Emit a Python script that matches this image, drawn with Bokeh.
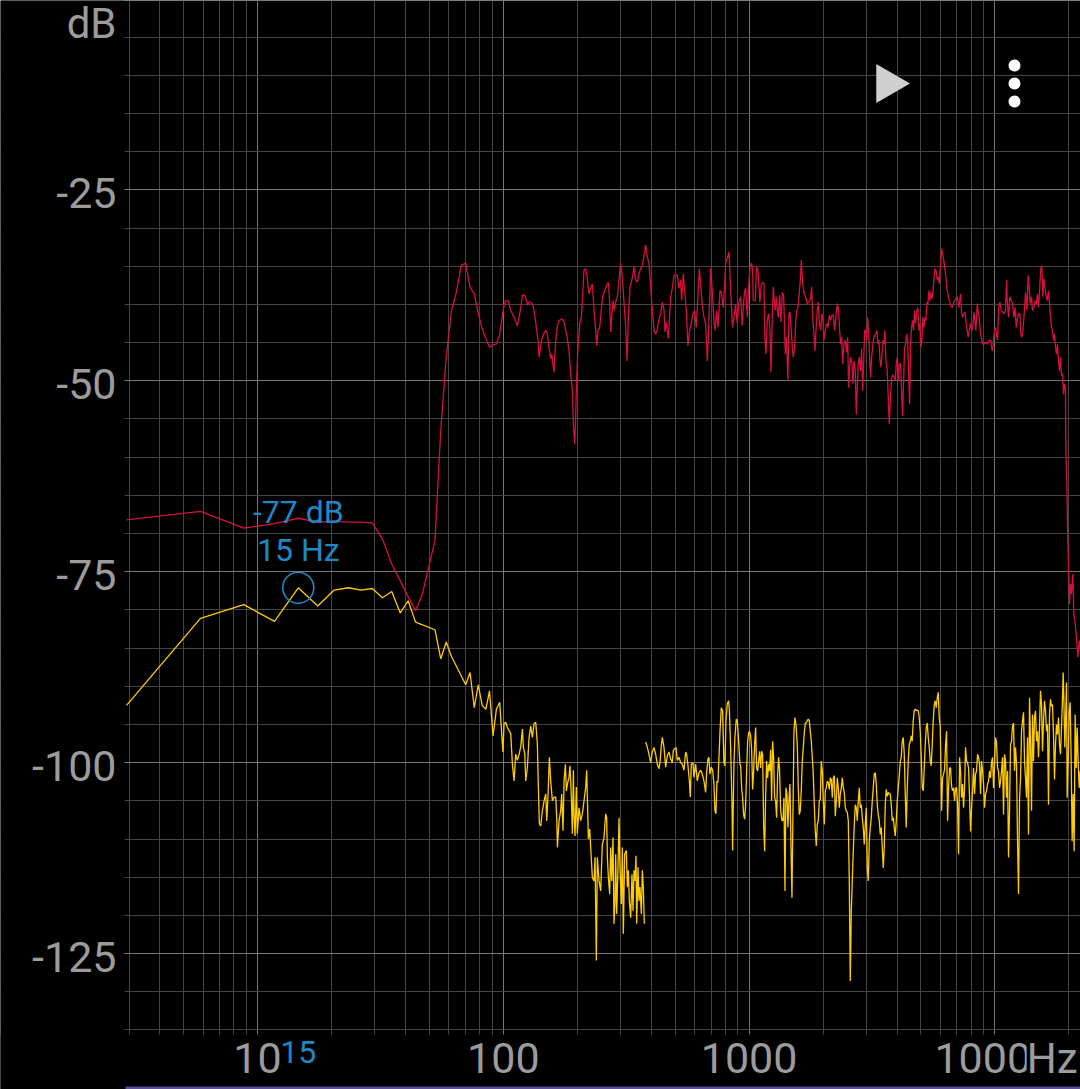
import math
import numpy as np
from bokeh.plotting import figure
from bokeh.models import Range1d, FixedTicker, Label, BoxAnnotation
from bokeh.embed import file_html
from bokeh.resources import INLINE

# ---------------- data (frequency in Hz, level in dB) ----------------
red_low = [(2.93,-68.2),(5.86,-67.1),(8.79,-69.3),(11.72,-68.7),(14.65,-68.0),(17.58,-68.5),(20.51,-68.4),
(23.44,-68.5),(26.37,-68.5),(29.30,-68.6),(32.23,-70.7),(35.16,-74.0),(38.09,-76.2),(41.02,-78.3),(43.95,-80.1),
(46.88,-77.9),(49.80,-74.3),(52.73,-70.9),(55.66,-56.5),(58.59,-46.9),(61.52,-40.8),(64.45,-38.4),(67.38,-34.9),
(70.31,-34.6),(73.24,-37.8),(76.17,-38.6),(79.10,-41.2),(82.03,-43.2),(84.96,-44.5),(87.89,-45.6),(90.82,-45.3),
(93.75,-45.2),(96.68,-43.9)]

red_mid = [(99.2,-41.4),(100.7,-40.1),(102.3,-39.5),(104.6,-39.5),(107.2,-40.8),(110.6,-41.7),(114.1,-42.8),
(117.0,-41.0),(119.6,-38.8),(122.3,-38.8),(124.5,-39.5),(125.3,-40.1),(127.3,-39.7),(129.3,-39.7),(132.1,-40.1),
(134.6,-41.7),(136.8,-43.4),(138.5,-44.7),(139.8,-46.9),(141.1,-46.1),(142.9,-44.7),(145.6,-43.9),(148.8,-43.4),
(151.1,-43.9),(153.5,-45.6),(155.9,-47.1),(157.4,-46.5),(158.9,-47.6),(160.9,-48.9),(161.9,-46.9),(163.9,-44.3),
(166.0,-42.8),(169.1,-42.1),(173.9,-41.9),(176.7,-42.3),(179.4,-43.4),(182.3,-44.5),(185.1,-46.1),(188.0,-49.1),
(191.0,-51.3),(192.8,-55.7),(195.2,-58.3),(197.0,-54.8),(198.8,-49.6),(201.4,-45.6),(204.6,-42.5),(207.8,-41.7),
(209.7,-39.5),(213.0,-35.5),(216.4,-35.3),(219.8,-36.8),(223.3,-38.6),(226.8,-37.9),(230.3,-37.3),(234.0,-40.8),
(237.6,-43.4),(239.9,-45.4),(242.9,-43.4),(246.8,-43.0),(250.6,-40.6),(253.7,-39.0),(258.5,-38.2),(263.4,-37.5),
(267.6,-37.1),(270.9,-39.7),(273.5,-43.6),(276.1,-41.7),(279.5,-39.5),(283.0,-40.8),(286.6,-39.7),(291.1,-39.0),
(295.7,-36.8),(300.3,-34.6),(305.0,-36.4),(309.8,-39.7),(314.7,-43.0),(318.7,-47.4),(322.7,-41.7),(327.8,-37.7),
(331.9,-37.1),(337.1,-36.0),(340.2,-35.1),(345.6,-36.8),(351.0,-37.1),(356.5,-36.0),(362.2,-35.3),(367.9,-34.9),
(373.6,-33.6),(379.5,-32.2),(385.5,-33.8),(391.5,-34.6),(397.7,-37.7),(403.9,-40.6),(410.3,-43.4),(416.8,-43.9),
(423.3,-43.2),(430.0,-41.9),(436.7,-41.2),(443.6,-39.7),(450.6,-40.6),(454.8,-43.6),(460.6,-42.3),(464.9,-43.4),
(469.3,-44.5),(473.7,-42.1),(479.6,-39.0),(487.1,-37.9),(494.8,-36.2),(502.6,-36.1),(510.5,-36.2),(518.5,-37.9),
(526.7,-36.8),(531.7,-39.5),(540.0,-36.0),(546.8,-38.2),(555.3,-40.8),(564.1,-45.4),(573.0,-43.4),(582.0,-42.5),
(591.2,-41.2),(600.4,-40.8),(609.9,-43.0),(619.5,-38.8),(627.3,-35.3),(635.1,-37.3),(645.1,-40.1),(655.3,-41.7),
(665.6,-42.5),(671.9,-45.6),(676.1,-47.4),(684.6,-43.4),(697.5,-35.3),(708.5,-38.2),(719.6,-42.1),(726.4,-43.4),
(737.9,-40.8),(747.4,-43.0),(761.3,-38.2),(770.8,-38.4),(785.3,-40.4),(795.2,-37.5),(802.7,-34.6),(815.3,-34.0),
(828.1,-33.1),(836.0,-36.0),(846.6,-39.9),(857.0,-43.0),(867.8,-41.7),(881.4,-40.1),(895.3,-42.5),(909.4,-39.7)]

red_high = [(924,-39.0),(938,-42.8),(947,-40.4),(959,-38.2),(968,-37.9),(984,-41.7),(996,-37.7),(1009,-35.1),
(1024,-34.6),(1034,-35.5),(1040,-39.5),(1060,-39.5),(1073,-35.1),(1087,-35.5),(1097,-37.7),(1107,-39.7),(1121,-37.5),
(1135,-37.1),(1150,-37.3),(1160,-44.3),(1171,-46.5),(1186,-42.1),(1201,-41.2),(1216,-43.4),(1228,-48.9),(1243,-41.7),
(1255,-37.7),(1266,-39.5),(1278,-40.8),(1290,-39.0),(1303,-40.8),(1315,-41.7),(1331,-38.8),(1348,-42.3),(1365,-38.4),
(1382,-38.8),(1395,-43.0),(1404,-46.5),(1417,-44.3),(1426,-46.1),(1439,-50.0),(1453,-41.2),(1466,-41.0),(1485,-43.4),
(1499,-45.6),(1513,-46.9),(1532,-45.6),(1547,-42.5),(1561,-40.8),(1581,-40.4),(1596,-39.0),(1616,-36.8),(1631,-34.2),
(1651,-37.1),(1672,-38.4),(1698,-39.0),(1725,-39.9),(1753,-39.7),(1780,-39.3),(1797,-37.7),(1814,-41.7),(1837,-43.9),
(1854,-46.1),(1872,-43.4),(1895,-40.8),(1913,-39.7),(1931,-42.3),(1955,-43.4),(1979,-41.2),(1998,-41.9),(2017,-44.7),
(2042,-43.4),(2068,-42.5),(2094,-43.0),(2120,-41.4),(2147,-42.1),(2174,-41.4),(2202,-41.4),(2229,-43.4),(2250,-42.1),
(2285,-39.9),(2314,-40.8),(2336,-43.4),(2358,-45.2),(2380,-44.3),(2402,-47.8),(2433,-45.2),(2463,-44.7),(2494,-46.3),
(2518,-44.3),(2541,-50.9),(2565,-48.2),(2589,-46.9),(2622,-47.8),(2646,-50.4),(2671,-47.4),(2705,-48.7),(2730,-54.4),
(2756,-50.9),(2782,-47.8),(2808,-46.9),(2843,-48.7),(2870,-45.8),(2897,-51.3),(2924,-47.8),(2952,-43.4),(2980,-43.4),
(3007,-44.7),(3036,-41.7),(3065,-43.9),(3093,-46.9),(3122,-49.6),(3152,-46.9),(3181,-45.6),(3221,-44.3),(3272,-43.9),
(3313,-43.4),(3344,-45.2),(3376,-44.7),(3408,-47.4),(3440,-48.2),(3472,-46.5),(3505,-44.7),(3538,-45.2),(3571,-43.4),
(3604,-47.4),(3650,-48.7),(3684,-52.2),(3719,-55.7),(3766,-51.8),(3801,-49.6),(3849,-49.2),(3897,-49.6),(3934,-50.0),
(3971,-47.8),(4008,-46.9),(4046,-50.0),(4084,-47.8),(4135,-47.8),(4174,-51.3),(4213,-54.6),(4253,-50.0),(4293,-45.6),
(4333,-45.2),(4374,-43.9),(4415,-44.7),(4457,-48.7),(4499,-53.1),(4541,-45.2),(4584,-43.0),(4627,-42.1),(4670,-43.4),
(4714,-40.8),(4759,-42.5),(4804,-41.0),(4864,-40.4),(4910,-43.4),(4956,-42.5),(5002,-45.6),(5050,-44.7),(5097,-41.7),
(5145,-43.0),(5193,-41.7),(5242,-42.1),(5292,-39.7),(5341,-39.9),(5392,-38.2),(5442,-39.5),(5494,-38.4),(5545,-39.3),
(5597,-38.4),(5650,-36.8),(5703,-35.3),(5775,-35.7),(5829,-36.8),(5884,-36.4),(5940,-37.3),(6014,-34.6),(6089,-32.7),
(6166,-33.8),(6243,-34.9),(6302,-36.0),(6401,-38.2),(6502,-39.3),(6604,-40.1),(6708,-40.4),(6814,-39.7),(6921,-39.3),
(7030,-39.0),(7140,-40.4),(7253,-38.6),(7321,-41.2),(7390,-41.7),(7483,-41.2),(7553,-41.0),(7648,-42.5),(7720,-43.4),
(7792,-44.3),(7866,-43.4),(7965,-42.5),(8040,-43.2),(8115,-43.4),(8217,-41.0),(8294,-42.1),(8372,-43.4),(8478,-39.9),
(8557,-41.0),(8638,-41.7),(8719,-43.4),(8801,-44.3),(8911,-45.2),(9024,-45.2),(9166,-45.0),(9309,-45.2),(9456,-44.7),
(9604,-44.7),(9756,-46.1),(9848,-45.2),(9971,-43.4),(10065,-43.0),(10160,-43.9),(10255,-44.7),(10384,-40.1),(10481,-39.7),
(10613,-40.8),(10747,-41.0),(10882,-41.2),(11053,-40.8),(11157,-36.8),(11227,-39.5),(11368,-41.7),(11510,-39.0),
(11655,-39.5),(11801,-39.9),(11950,-41.7),(12100,-40.4),(12214,-43.0),(12329,-42.1),(12484,-41.2),(12641,-41.2),
(12760,-43.9),(12880,-44.3),(13001,-43.6),(13164,-41.2),(13330,-38.4),(13497,-40.8),(13667,-36.2),(13795,-37.7),
(13925,-39.9),(14100,-39.0),(14232,-40.8),(14412,-40.4),(14593,-39.5),(14776,-39.9),(14915,-38.6),(15056,-40.4),
(15197,-38.2),(15387,-35.3),(15532,-34.9),(15678,-39.0),(15825,-36.6),(15974,-37.7),(16124,-38.6),(16327,-39.5),
(16532,-38.2),(16688,-39.9),(16845,-41.7),(17004,-43.0),(17163,-43.4),(17325,-44.7),(17488,-43.9),(17652,-45.6),
(17818,-46.5),(17985,-45.2),(18154,-47.4),(18325,-48.7),(18498,-46.9),(18672,-49.3),(18848,-49.1),(19025,-51.8),
(19204,-50.4),(19385,-51.3),(19440,-57.8),(19630,-63.9),(19810,-70.9),(20000,-75.3),(20130,-79.2),(20320,-76.6),
(20510,-77.9),(20760,-75.3),(20960,-80.5),(21230,-81.8),(21490,-83.6),(21760,-86.2),(22040,-84.0),(22310,-85.4)]

yellow_low = [(2.93,-92.5),(5.86,-81.1),(8.79,-79.3),(11.72,-81.5),(14.65,-77.1),(17.58,-79.5),(20.51,-77.4),
(23.44,-77.1),(26.37,-77.4),(29.30,-77.2),(32.23,-78.4),(35.16,-77.6),(38.09,-80.4),(41.02,-78.8),(43.95,-81.6),
(52.73,-82.6),(55.66,-86.4),(58.59,-84.2),(61.52,-86.1),(70.31,-89.8),(73.24,-88.2),(76.17,-92.8),(79.10,-89.8),
(82.03,-92.5),(84.96,-93.0),(87.89,-90.6),(90.82,-96.5),(93.75,-93.0),(96.68,-92.1),(99.61,-98.6)]

yellow_mid_a = [(100.7,-94.9),(102.3,-94.7),(103.9,-95.4),(107.2,-96.2),(108.9,-100.2),(110.6,-102.4),(112.3,-98.9),
(114.1,-99.7),(115.9,-98.9),(117.7,-98.0),(119.6,-95.6),(120.7,-98.0),(122.3,-98.9),(123.4,-102.4),(125.3,-100.6),
(127.3,-96.7),(129.3,-95.2),(131.3,-96.7),(133.4,-94.9),(135.5,-94.7),(137.6,-97.6),(138.9,-103.2),(140.2,-108.0),
(142.0,-108.3),(144.2,-106.3),(146.5,-105.0),(148.8,-104.1),(150.2,-107.6),(152.1,-104.1),(154.0,-99.3),(155.9,-102.4),
(158.4,-105.0),(160.9,-104.5),(163.4,-104.5),(165.0,-107.2),(166.0,-111.1),(168.6,-107.6),(171.2,-106.3),(172.8,-104.1),
(175.0,-108.9),(176.7,-102.4),(178.9,-100.2),(180.6,-103.7),(182.3,-102.8),(185.1,-101.9),(186.8,-100.4),(189.2,-104.5),
(191.0,-109.3),(192.8,-101.0),(194.0,-106.7),(195.8,-109.6),(198.2,-103.2),(200.1,-109.3),(203.3,-105.9),(206.5,-107.6),
(209.7,-106.7),(213.0,-105.0),(216.4,-103.2),(218.4,-101.0),(219.8,-104.5),(221.9,-110.0),(224.7,-108.7),(226.8,-111.1),
(230.3,-115.0),(234.0,-115.5),(236.2,-112.4),(239.1,-125.9),(241.4,-112.4),(245.2,-115.5),(249.0,-116.8),(252.9,-110.7),
(256.9,-109.8),(261.0,-106.7),(263.4,-107.2),(265.1,-112.4),(267.6,-115.0),(270.9,-117.2),(273.5,-111.1),(276.1,-115.5),
(279.5,-109.8),(282.1,-121.1),(284.8,-118.1),(286.6,-112.0),(289.3,-119.8),(292.9,-113.7),(295.7,-107.2),(298.4,-113.7),
(302.2,-118.5),(305.0,-111.1),(307.9,-122.4),(311.7,-112.0),(316.7,-111.5),(319.7,-116.3),(322.7,-114.1),(325.7,-118.1),
(329.8,-120.3),(333.9,-114.6),(337.1,-119.4),(340.2,-114.1),(343.4,-115.5),(346.7,-112.2),(348.9,-121.1),(353.2,-113.7),
(356.5,-118.1),(359.9,-116.3),(364.5,-119.8),(367.9,-114.1),(371.3,-116.3),(374.8,-121.1)]

yellow_mid_b = [(379.5,-97.3),(385.5,-98.0),(391.5,-98.9),(397.7,-100.0),(403.9,-98.6),(410.3,-98.0),(416.8,-98.9),
(423.3,-100.2),(430.0,-100.8),(434.0,-100.0),(439.4,-97.8),(443.6,-96.7),(450.6,-98.0),(457.7,-100.6),(464.9,-99.1),
(472.2,-98.6),(479.6,-99.5),(487.1,-100.0),(491.7,-98.4),(497.9,-98.2),(504.2,-98.0),(510.5,-99.7),(518.5,-99.3),
(526.7,-100.0),(535.0,-100.2),(543.4,-101.0),(551.9,-98.6),(557.1,-98.9),(564.1,-100.4),(571.6,-102.4),(576.6,-104.5),
(582.0,-100.2),(591.2,-100.0),(596.7,-101.9),(606.1,-100.2),(615.6,-102.4),(625.4,-101.3),(635.1,-101.0),(645.1,-101.5),
(655.3,-102.4),(665.6,-103.9),(671.9,-101.3),(680.3,-99.5),(686.7,-99.3),(693.2,-101.5),(701.8,-100.6),(710.7,-101.0),
(719.6,-102.8),(726.4,-106.3),(733.2,-106.7),(740.1,-102.4),(747.1,-102.6),(761.3,-96.0),(770.8,-92.8),(780.4,-93.2),
(790.2,-100.0),(797.7,-100.4),(805.3,-94.5),(815.3,-92.3),(825.5,-91.9),(831.7,-93.2),(841.2,-98.0),(851.7,-105.0),
(857.0,-111.5),(867.8,-100.2),(875.9,-96.7),(887.0,-94.3),(895.3,-94.5),(906.6,-97.1),(917.9,-100.2)]

yellow_high = [(924,-100.4),(932.7,-103.3),(941.4,-104.6),(950.3,-106.8),(959.2,-107.4),(968.3,-105.5),(977.4,-101.1),
(986.6,-97.2),(995.9,-96.1),(1005.2,-95.9),(1014.7,-96.5),(1024.3,-98.3),(1033.9,-103.5),(1043.6,-101.1),(1053.4,-97.6),
(1063.4,-95.4),(1073.4,-100.7),(1083.5,-101.1),(1093.7,-99.8),(1104.0,-98.5),(1114.3,-100.7),(1124.8,-98.5),(1135.4,-98.9),
(1146.1,-108.1),(1156.9,-111.6),(1167.7,-104.6),(1178.7,-99.8),(1189.8,-102.0),(1201.0,-100.2),(1212.3,-101.1),
(1223.7,-98.3),(1235.2,-105.0),(1246.8,-97.2),(1258.6,-99.3),(1270.4,-104.6),(1282.4,-105.0),(1294.5,-107.2),
(1306.6,-101.5),(1318.9,-99.3),(1331.3,-101.1),(1343.9,-106.3),(1360.8,-107.6),(1373.6,-107.6),(1386.5,-104.6),
(1399.6,-116.8),(1412.7,-103.3),(1426.0,-104.1),(1439.4,-108.5),(1452.8,-105.0),(1466.6,-102.8),(1480.4,-110.7),
(1494.3,-117.7),(1522.6,-95.9),(1537.0,-94.1),(1551.4,-95.0),(1570.8,-97.6),(1585.6,-103.3),(1600.6,-106.8),
(1615.6,-106.3),(1630.8,-103.7),(1646.1,-99.8),(1661.6,-98.0),(1677.2,-96.1),(1693.0,-94.8),(1708.9,-94.8),
(1725.4,-94.5),(1741.3,-94.3),(1757.9,-94.5),(1774.5,-95.9),(1791.3,-97.2),(1808.1,-99.3),(1825.0,-101.5),
(1842.3,-105.5),(1859.7,-109.0),(1877.2,-110.9),(1894.8,-108.1),(1912.7,-107.6),(1930.6,-105.0),(1948.8,-104.8),
(1967.1,-99.8),(1985.6,-101.1),(2004.3,-105.0),(2023.5,-108.1),(2042.4,-103.7),(2061.7,-103.3),(2081.0,-102.4),
(2100.6,-102.6),(2120.3,-103.5),(2140.3,-102.0),(2160.6,-102.2),(2180.7,-104.6),(2201.2,-102.0),(2222.0,-101.7),
(2242.8,-107.0),(2264.0,-105.0),(2285.2,-102.0),(2306.7,-103.3),(2328.5,-105.9),(2350.4,-104.1),(2372.6,-103.3),
(2394.8,-102.0),(2417.4,-103.3),(2440.2,-103.9),(2463.2,-105.9),(2486.4,-106.3),(2509.6,-106.5),(2533.3,-107.6),
(2557.1,-115.5),(2581.1,-128.6),(2605.4,-119.4),(2629.9,-115.5),(2654.7,-111.6),(2679.6,-108.1),(2704.8,-105.5),
(2730.3,-105.9),(2755.9,-107.6),(2781.9,-105.0),(2808.1,-103.3),(2834.5,-105.9),(2861.2,-105.5),(2888.1,-107.2),
(2915.2,-108.5),(2942.7,-110.7),(2970.3,-108.1),(2998.3,-105.9),(3026.5,-113.8),(3054.9,-115.5),(3083.7,-110.3),
(3112.7,-108.5),(3142.0,-107.2),(3171.4,-105.0),(3201.3,-103.3),(3231.5,-101.5),(3261.8,-101.3),(3292.5,-102.8),
(3323.5,-105.5),(3354.7,-106.8),(3386.3,-107.6),(3418.2,-109.4),(3450.4,-108.5),(3482.8,-111.1),(3515.6,-113.8),
(3548.6,-111.1),(3582.0,-105.5),(3615.8,-103.5),(3649.7,-104.4),(3684.1,-103.9),(3718.7,-104.1),(3753.7,-104.1),
(3789.1,-105.5),(3824.7,-107.6),(3860.7,-107.2),(3897.1,-108.5),(3933.7,-109.6),(3970.7,-107.6),(4008.0,-105.0),
(4045.7,-103.3),(4083.8,-101.7),(4122.3,-99.8),(4161.0,-99.3),(4200.1,-97.2),(4239.7,-96.7),(4279.5,-98.9),
(4319.7,-104.1),(4360.4,-108.5),(4401.6,-103.3),(4443.0,-99.8),(4484.8,-97.6),(4527.0,-97.2),(4569.6,-96.5),
(4612.5,-97.2),(4656.0,-94.5),(4699.8,-93.2),(4744.0,-93.0),(4788.6,-93.2),(4833.6,-93.1),(4879.1,-93.2),
(4925.0,-94.1),(4971.3,-95.9),(5018.1,-99.3),(5065.3,-103.3),(5113.0,-103.7),(5161.0,-100.7),(5209.6,-97.6),
(5258.6,-95.4),(5308.1,-94.8),(5358.0,-96.7),(5408.4,-98.0),(5459.3,-99.8),(5510.7,-100.4),(5562.6,-97.6),
(5614.9,-94.5),(5667.7,-92.4),(5721.1,-91.9),(5774.9,-92.8),(5829.2,-91.5),(5884.1,-90.8),(5939.4,-94.1),
(5995.3,-95.2),(6070.6,-106.3),(6127.6,-102.0),(6185.2,-101.5),(6243.4,-100.9),(6302.2,-97.6),(6361.5,-95.9),
(6421.3,-107.6),(6481.7,-103.3),(6542.7,-100.7),(6604.4,-100.7),(6666.5,-103.1),(6729.2,-103.7),(6792.5,-103.3),
(6856.4,-105.0),(6920.9,-103.3),(6986.1,-103.3),(7051.8,-105.5),(7118.1,-112.0),(7185.1,-99.3),(7252.7,-101.1),
(7320.9,-104.6),(7389.8,-102.8),(7459.3,-105.9),(7529.5,-103.3),(7600.4,-98.0),(7671.8,-99.8),(7744.0,-100.0),
(7816.8,-100.7),(7890.4,-104.6),(7964.7,-109.0),(8039.7,-105.9),(8115.3,-103.7),(8191.5,-100.7),(8268.6,-104.1),
(8346.2,-101.5),(8424.8,-101.1),(8504.0,-98.9),(8583.8,-99.3),(8664.5,-100.2),(8746.3,-104.1),(8828.7,-99.8),
(8911.8,-101.1),(8995.5,-102.8),(9080.1,-105.9),(9165.5,-104.1),(9251.7,-103.7),(9338.7,-102.8),(9426.5,-102.4),
(9515.2,-101.1),(9604.1,-102.0),(9694.6,-100.0),(9786.2,-99.3),(9878.3,-103.3),(9971.2,-100.2),(10065,-96.7),
(10160,-97.4),(10255,-100.7),(10351,-101.1),(10449,-103.3),(10547,-102.4),(10646,-101.1),(10747,-99.3),(10848,-106.8),
(10950,-98.9),(11053,-99.8),(11157,-104.6),(11262,-101.1),(11368,-112.4),(11475,-106.3),(11582,-97.6),(11691,-97.2),
(11801,-95.2),(11913,-94.8),(12025,-101.1),(12138,-98.0),(12252,-100.2),(12368,-110.3),(12484,-117.2),(12601,-105.0),
(12720,-102.0),(12840,-95.9),(12960,-94.5),(13082,-93.4),(13205,-99.8),(13330,-102.0),(13455,-104.6),(13582,-96.7),
(13710,-109.4),(13838,-91.5),(13968,-97.6),(14100,-106.3),(14232,-93.7),(14366,-99.8),(14502,-94.1),(14638,-93.2),
(14776,-97.2),(14915,-95.9),(15056,-99.3),(15197,-95.4),(15338,-90.6),(15483,-92.4),(15629,-98.5),(15776,-94.5),
(15924,-91.9),(16074,-93.2),(16225,-95.9),(16378,-95.0),(16532,-105.5),(16688,-93.7),(16845,-91.7),(17004,-92.6),
(17163,-92.4),(17325,-96.3),(17488,-102.2),(17652,-97.6),(17818,-95.0),(17985,-96.3),(18154,-94.1),(18325,-97.6),
(18498,-98.9),(18672,-95.4),(18848,-91.5),(18966,-88.2),(19084,-91.5),(19264,-98.0),(19445,-93.2),(19567,-89.5),
(19690,-104.6),(19875,-99.8),(20062,-93.2),(20250,-92.1),(20441,-99.8),(20633,-110.3),(20827,-104.1),(21023,-111.6),
(21221,-93.7),(21420,-100.7),(21622,-95.4),(21825,-99.8),(22030,-103.3),(22237,-101.1)]

# cursor marker
marker_f = 14.65
marker_db = -77.1

# axes
x_ticks = [10, 100, 1000, 10000]
x_tick_labels = ["10", "100", "1000", "10000"]
x_minor = [3, 4, 5, 6, 7, 8, 9, 20, 30, 40, 50, 60, 70, 80, 90, 200, 300, 400, 500, 600, 700, 800, 900,
           2000, 3000, 4000, 5000, 6000, 7000, 8000, 9000, 20000]
y_ticks = [-125, -100, -75, -50, -25]
y_tick_labels = ["-125", "-100", "-75", "-50", "-25"]
y_minor = list(range(-135, 0, 5))

# plot-area extent: data area spans F_LEFT..F_RIGHT and DB_TOP..DB_BOTTOM
F_LEFT, F_RIGHT = 2.93, 22310
DB_TOP, DB_BOTTOM = -0.21, -135.2

# ---------------- layout (page pixels) ----------------
W, H = 1080, 1089
AREA_LEFT, AREA_BOTTOM = 126, 1031
GRAY = "#9c9c9c"
BLUE = "#1f88c6"
RED = "#d5103d"
YELLOW = "#ffcc00"
FONT = "Roboto"
TICK_FS, UNIT_FS, CURSOR_FS = 43, 42, 32
LIFT = 0.42   # baseline correction (fraction of font size)

PX_PER_DEC = (W - AREA_LEFT) / math.log10(F_RIGHT / F_LEFT)
PX_PER_DB = AREA_BOTTOM / (DB_TOP - DB_BOTTOM)
X_LO = 10 ** (math.log10(F_LEFT) - AREA_LEFT / PX_PER_DEC)
Y_LO = DB_TOP - H / PX_PER_DB


def px_to_f(px):
    return 10 ** (math.log10(X_LO) + px / PX_PER_DEC)


def py_to_db(py):
    return DB_TOP - py / PX_PER_DB


p = figure(width=W, height=H, x_axis_type="log",
           x_range=Range1d(X_LO, F_RIGHT), y_range=Range1d(Y_LO, DB_TOP),
           output_backend="svg", toolbar_location=None,
           min_border_left=0, min_border_right=0, min_border_top=0, min_border_bottom=0,
           background_fill_color="black", border_fill_color="black", outline_line_color=None)

p.xaxis.visible = False
p.yaxis.visible = False

xt = FixedTicker(ticks=x_ticks, minor_ticks=x_minor)
yt = FixedTicker(ticks=y_ticks, minor_ticks=y_minor)
p.xgrid.ticker = xt
p.ygrid.ticker = yt
for g in (p.xgrid, p.ygrid):
    g.grid_line_color = "#787878"
    g.grid_line_width = 1
    g.minor_grid_line_color = "#444444"
    g.minor_grid_line_width = 1

# series
rf, rd = zip(*(red_low + red_mid + red_high))
y_all = yellow_low + yellow_mid_a + [(376.5, float("nan"))] + yellow_mid_b + yellow_high
yf, yd = zip(*y_all)

p.line(np.array(rf, dtype=float), np.array(rd, dtype=float), line_color=RED, line_width=1.3)
p.line(np.array(yf, dtype=float), np.array(yd, dtype=float), line_color=YELLOW, line_width=1.3)

# cursor marker
p.scatter([marker_f], [marker_db], marker="circle", size=31, fill_color=None,
          line_color=BLUE, line_width=1.6)

# UI icons (play triangle, menu dots)
p.scatter([px_to_f(887)], [py_to_db(83)], marker="triangle", size=39, angle=-math.pi / 2,
          fill_color="#cfcfcf", line_color=None)
p.scatter([px_to_f(1014)] * 3, [py_to_db(65), py_to_db(83), py_to_db(101)], marker="circle",
          size=12, fill_color="white", line_color=None)

# black margins outside the grid area (axis label zones); grid ticks poke out 2-3 px
p.add_layout(BoxAnnotation(right=px_to_f(124), fill_color="black", fill_alpha=1, line_color=None))
p.add_layout(BoxAnnotation(top=py_to_db(1034), fill_color="black", fill_alpha=1, line_color=None))
# strip of the panel below
p.add_layout(BoxAnnotation(left=px_to_f(125), top=py_to_db(1086), fill_color="#5a4c98",
                           fill_alpha=1, line_color=None))


def label(x, y, text, fs, color, align, y_off=0.0, **kw):
    p.add_layout(Label(x=x, y=y, y_offset=y_off + LIFT * fs, text=text, text_align=align,
                       text_baseline="alphabetic", text_color=color, text_font=FONT,
                       text_font_size=f"{fs}px", **kw))


# tick labels
for v, t in zip(y_ticks, y_tick_labels):
    label(px_to_f(116), v, t, TICK_FS, GRAY, "right", y_off=-21)
for v, t in zip(x_ticks, x_tick_labels):
    label(v, py_to_db(1076), t, TICK_FS, GRAY, "center")

# unit labels
label(px_to_f(116), py_to_db(41), "dB", UNIT_FS, GRAY, "right")
label(px_to_f(1077), py_to_db(1076), "Hz", UNIT_FS, GRAY, "right", background_fill_color="black")

# cursor readouts
label(marker_f, marker_db, f"{round(marker_db)} dB", CURSOR_FS, BLUE, "center", y_off=62)
label(marker_f, marker_db, f"{round(marker_f)} Hz", CURSOR_FS, BLUE, "center", y_off=24)
label(marker_f, py_to_db(1065), f"{round(marker_f)}", CURSOR_FS, BLUE, "center")

open("out.html", "w").write(file_html(p, INLINE))
